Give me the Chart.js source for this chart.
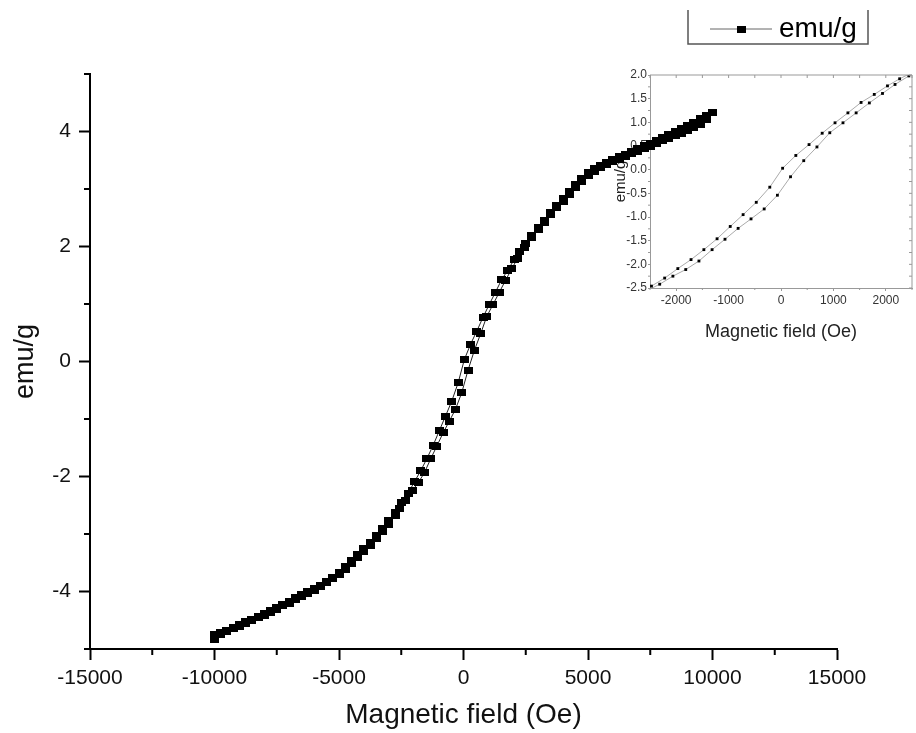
<!DOCTYPE html>
<html>
<head>
<meta charset="utf-8">
<script src="https://cdn.jsdelivr.net/npm/chart.js@4/dist/chart.umd.min.js"></script>
<style>
  html, body { margin: 0; padding: 0; background: #fff; }
  #wrap { position: relative; width: 916px; height: 733px; overflow: hidden; }
  #main { position: absolute; left: 0; top: 0; z-index: 2; }
  #inset { position: absolute; left: 600px; top: 60px; z-index: 1; }
</style>
</head>
<body>
<div id="wrap">
  <canvas id="inset" width="316" height="300"></canvas>
  <canvas id="main" width="916" height="733"></canvas>
</div>
<script>
const seriesName = "emu/g";
const xTitle = "Magnetic field (Oe)";
const yTitle = "emu/g";

// descending branch (+10000 -> -10000)
const fieldDown = [10000, 9750, 9500, 9250, 9000, 8750, 8500, 8250, 8000, 7750,
  7500, 7250, 7000, 6750, 6500, 6250, 6000, 5750, 5500, 5250,
  5000, 4750, 4500, 4250, 4000, 3750, 3500, 3250, 3000, 2750, 2500,
  2264, 2032, 1780, 1528, 1277, 1031, 786, 535, 283, 31,
  -214, -472, -723, -969, -1220, -1472, -1717, -1969, -2220, -2472,
  -2750, -3000, -3250, -3500, -3750, -4000, -4250, -4500, -4750, -5000,
  -5250, -5500, -5750, -6000, -6250, -6500, -6750, -7000, -7250, -7500,
  -7750, -8000, -8250, -8500, -8750, -9000, -9250, -9500, -9750, -10000];
const momentDown = [4.33, 4.28, 4.22, 4.16, 4.10, 4.05, 4.00, 3.95, 3.90, 3.85,
  3.80, 3.75, 3.70, 3.65, 3.60, 3.56, 3.51, 3.46, 3.41, 3.35,
  3.28, 3.18, 3.07, 2.95, 2.83, 2.71, 2.59, 2.46, 2.33, 2.19, 2.05,
  1.92, 1.77, 1.59, 1.42, 1.20, 0.99, 0.77, 0.53, 0.30, 0.03,
  -0.37, -0.69, -0.95, -1.20, -1.46, -1.69, -1.90, -2.09, -2.29, -2.46,
  -2.62, -2.77, -2.90, -3.03, -3.14, -3.25, -3.36, -3.46, -3.57, -3.67,
  -3.75, -3.82, -3.89, -3.95, -4.00, -4.05, -4.11, -4.17, -4.22, -4.28,
  -4.33, -4.38, -4.43, -4.48, -4.53, -4.57, -4.62, -4.67, -4.71, -4.75];

// ascending branch (-10000 -> +10000)
const fieldUp = [-10000, -9750, -9500, -9250, -9000, -8750, -8500, -8250, -8000, -7750,
  -7500, -7250, -7000, -6750, -6500, -6250, -6000, -5750, -5500, -5250,
  -5000, -4750, -4500, -4250, -4000, -3750, -3500, -3250, -3000, -2750,
  -2565, -2315, -2063, -1818, -1566, -1315, -1069, -818, -572, -321, -69,
  182, 434, 686, 931, 1183, 1434, 1686, 1937, 2176, 2440,
  2750, 3000, 3250, 3500, 3750, 4000, 4250, 4500, 4750, 5000,
  5250, 5500, 5750, 6000, 6250, 6500, 6750, 7000, 7250, 7500,
  7750, 8000, 8250, 8500, 8750, 9000, 9250, 9500, 9750, 10000];
const momentUp = [-4.83, -4.74, -4.70, -4.65, -4.60, -4.56, -4.51, -4.46, -4.41, -4.36,
  -4.31, -4.25, -4.20, -4.14, -4.08, -4.03, -3.98, -3.92, -3.85, -3.78,
  -3.70, -3.61, -3.51, -3.41, -3.30, -3.20, -3.08, -2.96, -2.83, -2.68,
  -2.56, -2.42, -2.25, -2.11, -1.93, -1.69, -1.47, -1.24, -1.04, -0.83, -0.54,
  -0.15, 0.19, 0.48, 0.78, 0.99, 1.20, 1.41, 1.61, 1.80, 1.98,
  2.15, 2.29, 2.42, 2.55, 2.67, 2.79, 2.91, 3.02, 3.13, 3.23,
  3.31, 3.37, 3.42, 3.47, 3.52, 3.56, 3.61, 3.65, 3.70, 3.74,
  3.79, 3.84, 3.88, 3.93, 3.97, 4.02, 4.07, 4.13, 4.21, 4.33];

// main axes ticks
const xTicks = [-15000, -10000, -5000, 0, 5000, 10000, 15000];
const xMinor = [-12500, -7500, -2500, 2500, 7500, 12500];
const yTicks = [-4, -2, 0, 2, 4];
const yMinor = [-5, -3, -1, 1, 3, 5];

// inset axes ticks
const insetXTicks = [-2000, -1000, 0, 1000, 2000];
const insetXMinor = [-2500, -1500, -500, 500, 1500, 2500];
const insetYTicks = [-2.5, -2.0, -1.5, -1.0, -0.5, 0.0, 0.5, 1.0, 1.5, 2.0];
const insetYMinor = [-2.25, -1.75, -1.25, -0.75, -0.25, 0.25, 0.75, 1.25, 1.75];

const points = fieldDown.map((f, i) => ({ x: f, y: momentDown[i] }))
  .concat(fieldUp.map((f, i) => ({ x: f, y: momentUp[i] })));

Chart.defaults.font.family = "'Liberation Sans', Arial, sans-serif";
Chart.defaults.color = "#111";

// filled square marker, a little wider than tall like the original
const marker = document.createElement("canvas");
marker.width = 9;
marker.height = 7;
const mctx = marker.getContext("2d");
mctx.fillStyle = "#000";
mctx.fillRect(0, 0, 9, 7);

// extra tick marks (minor ticks, inset frame ticks)
const tickMarks = {
  id: "tickMarks",
  afterDraw(chart, args, opts) {
    const { ctx, chartArea: a } = chart;
    const xs = chart.scales.x, ys = chart.scales.y;
    ctx.save();
    ctx.strokeStyle = opts.color;
    ctx.lineWidth = opts.width;
    ctx.beginPath();
    if (opts.frame) {
      ctx.moveTo(a.left, a.top);
      ctx.lineTo(a.right, a.top);
      ctx.lineTo(a.right, a.bottom);
    }
    (opts.marks || []).forEach(m => {
      m.values.forEach(v => {
        if (m.side === "bottom" || m.side === "top") {
          const px = xs.getPixelForValue(v);
          const base = m.side === "bottom" ? a.bottom : a.top;
          let dir = m.side === "bottom" ? 1 : -1;
          if (m.inward) dir = -dir;
          ctx.moveTo(px, base);
          ctx.lineTo(px, base + dir * m.length);
        } else {
          const py = ys.getPixelForValue(v);
          const base = m.side === "left" ? a.left : a.right;
          let dir = m.side === "left" ? -1 : 1;
          if (m.inward) dir = -dir;
          ctx.moveTo(base, py);
          ctx.lineTo(base + dir * m.length, py);
        }
      });
    });
    ctx.stroke();
    ctx.restore();
  }
};

// legend box, cut at the top like the original
const legendBox = {
  id: "legendBox",
  afterDraw(chart, args, o) {
    const ctx = chart.ctx;
    const ds = chart.data.datasets[0];
    ctx.save();
    ctx.strokeStyle = o.borderColor;
    ctx.lineWidth = o.borderWidth;
    ctx.beginPath();
    ctx.moveTo(o.left, o.top);
    ctx.lineTo(o.left, o.bottom);
    ctx.lineTo(o.right, o.bottom);
    ctx.lineTo(o.right, o.top);
    ctx.stroke();
    ctx.strokeStyle = o.lineColor;
    ctx.lineWidth = 1;
    ctx.beginPath();
    ctx.moveTo(o.left + 22, o.rowY);
    ctx.lineTo(o.left + 84, o.rowY);
    ctx.stroke();
    ctx.drawImage(marker, o.left + 53 - 4, o.rowY - 3);
    ctx.fillStyle = "#000";
    ctx.font = "28px 'Liberation Sans', Arial, sans-serif";
    ctx.textBaseline = "middle";
    ctx.fillText(ds.label, o.left + 91, o.rowY);
    ctx.restore();
  }
};

new Chart(document.getElementById("inset"), {
  type: "scatter",
  data: {
    datasets: [{
      label: seriesName,
      data: points,
      showLine: true,
      borderColor: "#aaa",
      borderWidth: 1,
      pointStyle: "rect",
      pointRadius: 2,
      pointBackgroundColor: "#000",
      pointBorderWidth: 0
    }]
  },
  options: {
    responsive: false,
    animation: false,
    devicePixelRatio: 1,
    layout: { padding: { left: 0, top: 15, right: 1, bottom: 0 } },
    plugins: {
      legend: { display: false },
      tooltip: { enabled: false },
      tickMarks: {
        color: "#999",
        width: 1,
        frame: true,
        marks: [
          { side: "bottom", values: insetXMinor, length: 2 },
          { side: "top", values: insetXTicks.concat(insetXMinor), length: 3, inward: true },
          { side: "left", values: insetYMinor, length: 2 },
          { side: "right", values: insetYTicks.concat(insetYMinor), length: 3, inward: true }
        ]
      }
    },
    scales: {
      x: {
        type: "linear",
        min: -2500,
        max: 2500,
        afterBuildTicks: s => { s.ticks = insetXTicks.map(v => ({ value: v })); },
        afterFit: s => { s.height = 72; },
        ticks: { font: { size: 12 }, color: "#333", padding: 2, maxRotation: 0, autoSkip: false,
          callback: v => String(v) },
        grid: { drawOnChartArea: false, tickLength: 3, color: "#999" },
        border: { color: "#999", width: 1 },
        title: { display: true, text: xTitle, font: { size: 18 }, color: "#222",
          padding: { top: 0, bottom: 17 } }
      },
      y: {
        type: "linear",
        min: -2.5,
        max: 2.0,
        afterBuildTicks: s => { s.ticks = insetYTicks.map(v => ({ value: v })); },
        afterFit: s => { s.width = 50; },
        ticks: { font: { size: 12 }, color: "#333", padding: 1, autoSkip: false,
          callback: v => v.toFixed(1) },
        grid: { drawOnChartArea: false, tickLength: 2, color: "#999" },
        border: { color: "#999", width: 1 },
        title: { display: true, text: yTitle, font: { size: 15 }, color: "#222",
          padding: { top: 12, bottom: 0 } }
      }
    }
  },
  plugins: [tickMarks]
});

new Chart(document.getElementById("main"), {
  type: "scatter",
  data: {
    datasets: [{
      label: seriesName,
      data: points,
      showLine: true,
      borderColor: "#222",
      borderWidth: 1,
      pointStyle: marker,
      pointRadius: 4.5,
      pointBackgroundColor: "#000",
      pointBorderColor: "#000",
      pointBorderWidth: 0
    }]
  },
  options: {
    responsive: false,
    animation: false,
    devicePixelRatio: 1,
    layout: { padding: { left: 0, top: 74, right: 79, bottom: 0 } },
    plugins: {
      legend: { display: false },
      tooltip: { enabled: false },
      tickMarks: {
        color: "#000",
        width: 2,
        marks: [
          { side: "bottom", values: xMinor, length: 6 },
          { side: "left", values: yMinor, length: 6 }
        ]
      },
      legendBox: {
        left: 688, right: 868, top: 10, bottom: 44, rowY: 29,
        borderColor: "#555", borderWidth: 1.5, lineColor: "#666"
      }
    },
    scales: {
      x: {
        type: "linear",
        min: -15000,
        max: 15000,
        afterBuildTicks: s => { s.ticks = xTicks.map(v => ({ value: v })); },
        afterFit: s => { s.height = 84; },
        ticks: { font: { size: 21 }, color: "#111", padding: 6, maxRotation: 0, autoSkip: false,
          callback: v => String(v) },
        grid: { drawOnChartArea: false, tickLength: 11, tickWidth: 2, tickColor: "#000" },
        border: { color: "#000", width: 2 },
        title: { display: true, text: xTitle, font: { size: 28 }, color: "#111",
          padding: { top: 0, bottom: 1 } }
      },
      y: {
        type: "linear",
        min: -5,
        max: 5,
        afterBuildTicks: s => { s.ticks = yTicks.map(v => ({ value: v })); },
        afterFit: s => { s.width = 90; },
        ticks: { font: { size: 21 }, color: "#111", padding: 8, autoSkip: false,
          callback: v => String(v) },
        grid: { drawOnChartArea: false, tickLength: 11, tickWidth: 2, tickColor: "#000" },
        border: { color: "#000", width: 2 },
        title: { display: true, text: yTitle, font: { size: 27 }, color: "#111",
          padding: { top: 9, bottom: 0 } }
      }
    }
  },
  plugins: [tickMarks, legendBox]
});
</script>
</body>
</html>
